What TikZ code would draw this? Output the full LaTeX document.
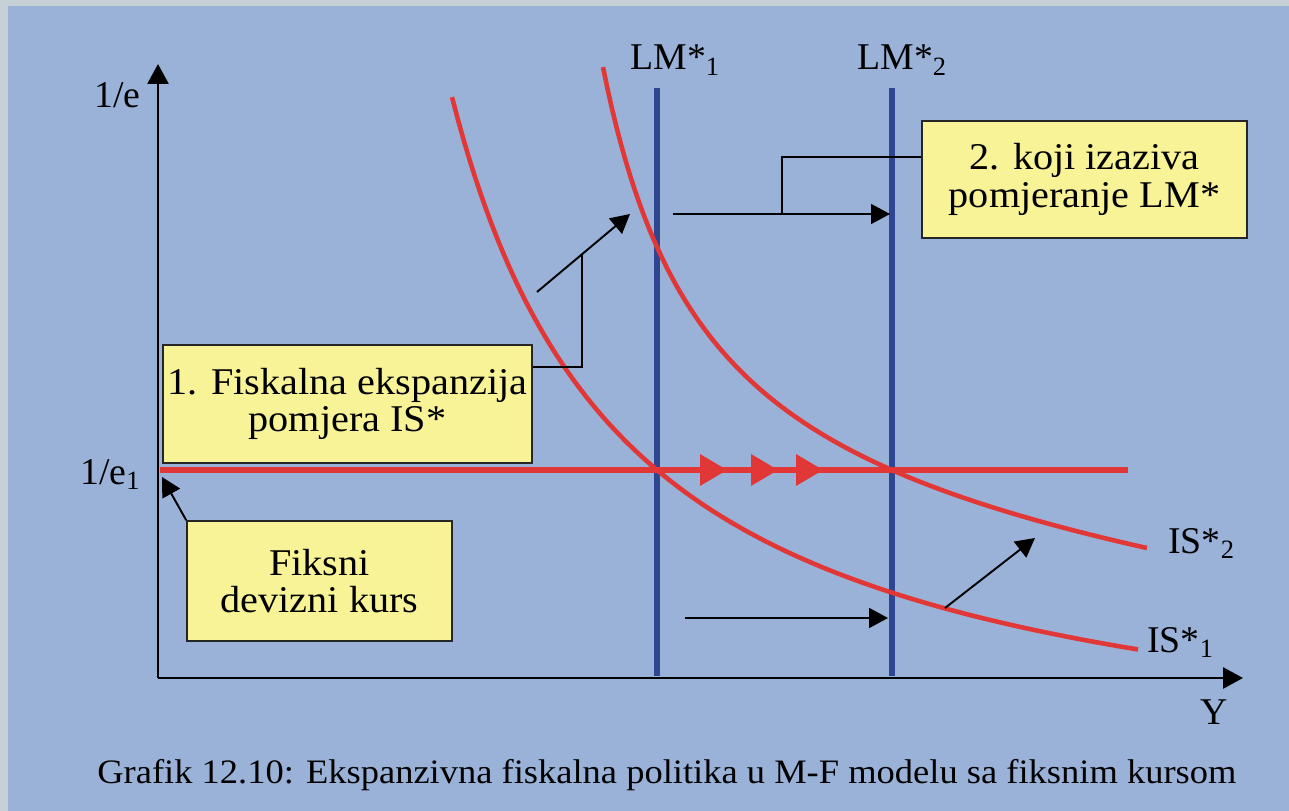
\documentclass[tikz,border=0pt]{standalone}
\usepackage{fontspec}
\setmainfont{Liberation Serif}
\newfontfamily\widefont{Liberation Serif}[FakeStretch=1.065]
\usetikzlibrary{arrows.meta,positioning}
\definecolor{framegray}{RGB}{198,208,215}
\definecolor{paneblue}{RGB}{154,178,216}
\definecolor{boxyellow}{RGB}{247,243,150}
\definecolor{curvered}{RGB}{226,55,55}
\definecolor{lmblue}{RGB}{46,70,145}
\tikzstyle{note} = [draw=black!85, line width=1pt, fill=boxyellow, align=center, inner sep=0pt, font=\widefont\fontsize{21.5}{21.5}\selectfont]
\tikzstyle{lab} = [inner sep=0pt, anchor=base west, font=\fontsize{21.5}{21.5}\selectfont]
\tikzstyle{axis} = [line width=1.6pt, -{Triangle[length=0.4cm,width=0.42cm]}]
\tikzstyle{pointer} = [line width=1.1pt, -{Triangle[length=0.38cm,width=0.4cm]}]
\tikzstyle{link} = [line width=1.1pt]
\tikzstyle{lm} = [draw=lmblue, line width=3.2pt]
\tikzstyle{iscurve} = [draw=curvered, line width=2.6pt]

\begin{document}
\begin{tikzpicture}[x=0.02cm, y=-0.02cm]
        \useasboundingbox (0,0) rectangle (1289,811);
        \fill[framegray] (0,0) rectangle (1289,811);
        \fill[paneblue] (8,6) rectangle (1289,811);
        % axes
        \coordinate (origin) at (158,678);
        \coordinate (ytop) at (158,64);
        \coordinate (xend) at (1243,678);
        \draw[axis] (origin) -- (ytop);
        \draw[axis] (origin) -- (xend);
        \node[lab] (ylab) at (94,108) {1/e};
        \node[lab] (e1lab) at (80,484) {1/e\textsubscript{1}};
        \node[lab] (xlab) at (1200,724) {Y};
        % LM* lines
        \coordinate (lm1top) at (657,88);
        \coordinate (lm1bot) at (657,676);
        \coordinate (lm2top) at (892,88);
        \coordinate (lm2bot) at (892,676);
        \draw[lm] (lm1top) -- (lm1bot);
        \draw[lm] (lm2top) -- (lm2bot);
        \node[lab] (lm1lab) at (630,70) {LM*\textsubscript{1}};
        \node[lab] (lm2lab) at (857,70) {LM*\textsubscript{2}};
        % IS* curves
        \draw[iscurve] plot[domain=452:1138, samples=120] (\x, {792-1230/((\x-275)/100)});
        \draw[iscurve] plot[domain=603:1147, samples=120] (\x, {514.6+0.0996*\x-522.82/((\x-500)/100)});
        \node[lab] (is2lab) at (1168,553) {IS*\textsubscript{2}};
        \node[lab] (is1lab) at (1147,652) {IS*\textsubscript{1}};
        % fixed rate
        \coordinate (fixl) at (160,470);
        \coordinate (fixr) at (1128,470);
        \draw[curvered, line width=3pt] (fixl) -- (fixr);
        \foreach \t in {727,778,823}
            \fill[curvered] (\t,470) -- ++(-27,-16) -- ++(0,32) -- cycle;
        % boxes
        \node[note, minimum width=7.38cm, minimum height=2.36cm] (box1) at (347.5,404) {1. Fiskalna ekspanzija\\pomjera IS*};
        \node[note, minimum width=6.5cm, minimum height=2.34cm] (box2) at (1084.5,179.5) {2. koji izaziva\\pomjeranje LM*};
        \node[note, minimum width=5.3cm, minimum height=2.4cm] (box3) at (319.5,581) {Fiksni\\devizni kurs};
        % shift arrows
        \coordinate (up1s) at (537,292);
        \coordinate (up1e) at (630,214);
        \coordinate (j1) at (582,254);
        \draw[pointer] (up1s) -- (up1e);
        \draw[link] ([yshift=0.74cm]box1.east) -| (j1);
        \coordinate (sh1s) at (673,214);
        \coordinate (sh1e) at (890,214);
        \coordinate (j2) at (782,214);
        \draw[pointer] (sh1s) -- (sh1e);
        \draw[link] ([yshift=0.45cm]box2.west) -| (j2);
        \coordinate (sh2s) at (685,618);
        \coordinate (sh2e) at (888,618);
        \draw[pointer] (sh2s) -- (sh2e);
        \coordinate (up2s) at (945,608);
        \coordinate (up2e) at (1035,538);
        \draw[pointer] (up2s) -- (up2e);
        \coordinate (e1tip) at (162,477);
        \draw[pointer] (box3.north west) -- (e1tip);
        % caption
        \node[lab, font=\widefont\fontsize{19.5}{19.5}\selectfont] (caption) at (97,783) {Grafik 12.10: Ekspanzivna fiskalna politika u M-F modelu sa fiksnim kursom};
    \end{tikzpicture}
\end{document}
